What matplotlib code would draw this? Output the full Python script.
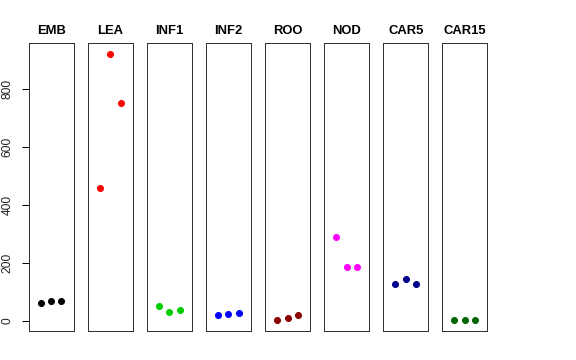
import matplotlib
matplotlib.use("Agg")
import matplotlib.pyplot as plt

plt.rcParams['font.family'] = ['Liberation Sans', 'DejaVu Sans']

categories = ["EMB", "LEA", "INF1", "INF2", "ROO", "NOD", "CAR5", "CAR15"]
colors = ["#000000", "#FF0000", "#00CD00", "#0000FF", "#8B0000", "#FF00FF", "#00008B", "#006400"]
values_EMB = [62, 67, 67]
values_LEA = [457, 922, 754]
values_INF1 = [49, 30, 37]
values_INF2 = [18, 22, 28]
values_ROO = [2, 9, 19]
values_NOD = [289, 185, 184]
values_CAR5 = [125, 144, 127]
values_CAR15 = [1, 1.5, 1.5]
series = [values_EMB, values_LEA, values_INF1, values_INF2, values_ROO,
          values_NOD, values_CAR5, values_CAR15]
yticks = [0, 200, 400, 600, 800]
replicates = [1, 2, 3]

W, H = 576, 360
fig = plt.figure(figsize=(W / 72, H / 72), dpi=72)

all_vals = [v for s in series for v in s]
lo, hi = min(all_vals), max(all_vals)
ext = 0.04 * (hi - lo)
ylim = (lo - ext, hi + ext)

left0, step, pw = 28.7, 59.1, 44.8
bottom_px, top_px = 331.0, 43.3

for i, (cat, col, vals) in enumerate(zip(categories, colors, series)):
    l = left0 + step * i
    ax = fig.add_axes([l / W, (H - bottom_px) / H, pw / W, (bottom_px - top_px) / H])
    ax.plot(replicates, vals, 'o', color=col, ms=6, mec=col)
    ax.set_xlim(1 - 1.17, 3 + 1.17)
    ax.set_ylim(*ylim)
    ax.set_xticks([])
    for sp in ax.spines.values():
        sp.set_color('#333333')
        sp.set_linewidth(1)
    ax.set_title(cat, fontsize=13, fontweight='bold', pad=9)
    if i == 0:
        ax.set_yticks(yticks)
        ax.set_yticklabels([str(t) for t in yticks], rotation=90, va='center', fontsize=12)
        ax.tick_params(axis='y', length=7, width=1, pad=8, labelcolor='#222222')
    else:
        ax.set_yticks([])

fig.savefig("out.png", dpi=72)
